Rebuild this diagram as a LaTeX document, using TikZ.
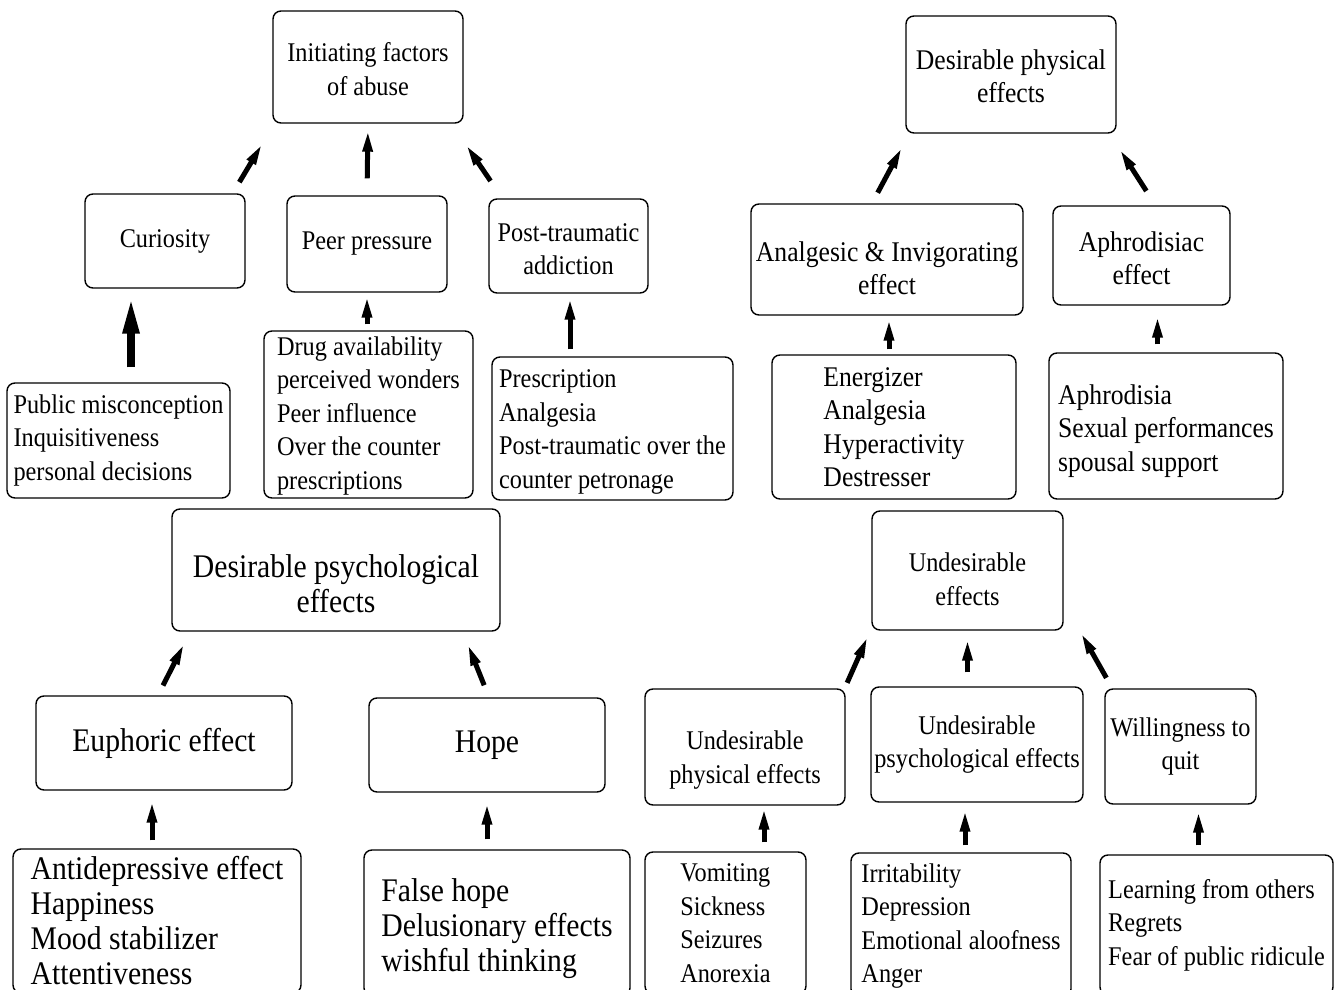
\documentclass[tikz,border=0pt]{standalone}
\usepackage{fontspec}
\setmainfont{Liberation Serif}[FakeStretch=0.9]
\usepackage{tikz}
\usetikzlibrary{arrows.meta}

% taller first line pushes the text of a box down
\newcommand{\pushdown}[1]{\rule{0pt}{#1}}

\tikzset{
    box/.style={draw, rounded corners=4pt, line width=0.7pt, inner sep=0pt, align=center,
        font=\fontsize{13.5}{16.75}\selectfont},
    listbox/.style={box, align=left},
    mid/.style={font=\fontsize{14.25}{16.75}\selectfont},
    big/.style={font=\fontsize{16.5}{17.5}\selectfont},
    arr/.style={-{Triangle[length=11pt,width=4.6pt]}, line width=2.5pt},
    bigarr/.style={-{Triangle[length=19pt,width=7.5pt]}, line width=4pt}
}

\begin{document}
\begin{tikzpicture}[x=0.5pt, y=-0.5pt]
                \useasboundingbox (0,0) rectangle (1335,990);
                \clip (0,0) rectangle (1335,990);

                % Nodes
                \node[box, minimum width=95pt, minimum height=56pt] (init) at (368,67) {\pushdown{11.8pt}Initiating factors\\of abuse};
                \node[box, minimum width=80pt, minimum height=47pt] (cur) at (165,241) {Curiosity};
                \node[box, minimum width=80pt, minimum height=48pt] (peer) at (367,244) {Peer pressure};
                \node[box, minimum width=79.5pt, minimum height=47pt] (post) at (568.5,246) {\pushdown{12.3pt}Post-traumatic\\addiction};
                \node[listbox, minimum width=111.5pt, minimum height=57.5pt] (pub) at (118.5,440.5) {Public misconception\\Inquisitiveness\\personal decisions};
                \node[listbox, minimum width=104.5pt, minimum height=83.5pt] (drug) at (368.5,414.5) {\pushdown{10.5pt}Drug availability\\perceived wonders\\Peer influence\\Over the counter\\prescriptions};
                \node[listbox, minimum width=120.5pt, minimum height=71.5pt] (presc) at (612.5,428.5) {\pushdown{12.3pt}Prescription\\Analgesia\\Post-traumatic over the\\counter petronage};

                \node[box, mid, minimum width=105pt, minimum height=58.5pt] (dphys) at (1011,74.5) {\pushdown{11.8pt}Desirable physical\\effects};
                \node[box, mid, minimum width=136pt, minimum height=55.5pt] (analg) at (887,259.5) {\pushdown{18.8pt}Analgesic \& Invigorating\\effect};
                \node[box, mid, minimum width=88.5pt, minimum height=49.5pt] (aphro) at (1141.5,255.5) {\pushdown{12.8pt}Aphrodisiac\\effect};
                \node[listbox, mid, minimum width=122pt, minimum height=72pt] (energ) at (894,427) {Energizer\\Analgesia\\Hyperactivity\\Destresser};
                \node[listbox, mid, minimum width=117pt, minimum height=73pt] (aphrod) at (1166,426) {\pushdown{14.8pt}Aphrodisia\\Sexual performances\\spousal support};

                \node[box, big, minimum width=164pt, minimum height=61pt] (dpsych) at (336,570) {\pushdown{25.3pt}Desirable psychological\\effects};
                \node[box, big, minimum width=128pt, minimum height=47pt] (euph) at (164,743) {Euphoric effect};
                \node[box, big, minimum width=118pt, minimum height=47pt] (hope) at (487,745) {Hope};
                \node[listbox, big, minimum width=144pt, minimum height=72pt] (antid) at (157,921) {Antidepressive effect\\Happiness\\Mood stabilizer\\Attentiveness};
                \node[listbox, big, minimum width=133pt, minimum height=73pt] (fhope) at (497,923) {\pushdown{17.3pt}False hope\\Delusionary effects\\wishful thinking};

                \node[box, minimum width=95.5pt, minimum height=59.5pt] (undes) at (967.5,570.5) {\pushdown{18.3pt}Undesirable\\effects};
                \node[box, minimum width=100pt, minimum height=58pt] (uphys) at (745,747) {\pushdown{22.3pt}Undesirable\\physical effects};
                \node[box, minimum width=106pt, minimum height=57.5pt] (upsych) at (977,744.5) {Undesirable\\psychological effects};
                \node[box, minimum width=75.5pt, minimum height=57.5pt] (quit) at (1180.5,746.5) {Willingness to\\quit};
                \node[listbox, minimum width=80.5pt, minimum height=71pt] (vomit) at (725.5,923) {Vomiting\\Sickness\\Seizures\\Anorexia};
                \node[listbox, minimum width=110pt, minimum height=72pt] (irrit) at (961,925) {\pushdown{10.5pt}Irritability\\Depression\\Emotional aloofness\\Anger};
                \node[listbox, minimum width=116.5pt, minimum height=70pt] (learn) at (1216.5,925) {Learning from others\\Regrets\\Fear of public ridicule};

                % Edges
                \draw[arr, shorten <=6.5pt, shorten >=11.5pt] ([xshift=-6.5pt]cur.north east)--([xshift=1pt]init.south west);
                \draw[arr, shorten <=8.5pt, shorten >=3pt] (peer.north)--(init.south);
                \draw[arr, shorten <=10.5pt, shorten >=12.5pt] ([xshift=7pt]post.north west)--([xshift=-6pt]init.south east);
                \draw[bigarr, shorten <=7.5pt, shorten >=3.5pt] ([xshift=-17pt]cur.south |- pub.north)--([xshift=-17pt]cur.south);
                \draw[arr, shorten <=3pt, shorten >=1.5pt] (peer.south |- drug.north)--(peer.south);
                \draw[arr, shorten <=3.5pt, shorten >=2pt] ([xshift=0.75pt]post.south |- presc.north)--([xshift=0.75pt]post.south);

                \draw[arr, shorten <=6pt, shorten >=7.5pt] ([xshift=-7.5pt]analg.north)--([xshift=2pt]dphys.south west);
                \draw[arr, shorten <=8.5pt, shorten >=9pt] ([xshift=7pt]aphro.north)--([xshift=-3.5pt]dphys.south east);
                \draw[arr, shorten <=2.5pt, shorten >=1.5pt] ([xshift=1pt]analg.south |- energ.north)--([xshift=1pt]analg.south);
                \draw[arr, shorten <=4pt, shorten >=5pt] ([xshift=8pt]aphro.south |- aphrod.north)--([xshift=8pt]aphro.south);

                \draw[arr, shorten <=5.5pt, shorten >=6.5pt] ([xshift=-3pt]euph.north)--([xshift=9.5pt]dpsych.south west);
                \draw[arr, shorten <=6.5pt, shorten >=6.5pt] ([xshift=1pt]hope.north)--([xshift=-19pt]dpsych.south east);
                \draw[arr, shorten <=4pt, shorten >=5pt] ([xshift=-6pt]euph.south |- antid.north)--([xshift=-6pt]euph.south);
                \draw[arr, shorten <=5pt, shorten >=5pt] (hope.south |- fhope.north)--(hope.south);

                \draw[arr, shorten <=3pt, shorten >=3pt] ([xshift=-0.5pt]uphys.north east)--([xshift=-0.5pt]undes.south west);
                \draw[arr, shorten <=7pt, shorten >=4pt] (undes.south |- upsych.north)--(undes.south);
                \draw[arr, shorten <=6pt, shorten >=1pt] ([xshift=4pt]quit.north west)--([xshift=8pt]undes.south east);
                \draw[arr, shorten <=4.5pt, shorten >=1pt] ([xshift=9.5pt]uphys.south |- vomit.north)--([xshift=9.5pt]uphys.south);
                \draw[arr, shorten <=3.5pt, shorten >=3.5pt] ([xshift=-6pt]upsych.south |- irrit.north)--([xshift=-6pt]upsych.south);
                \draw[arr, shorten <=4.5pt, shorten >=3pt] ([xshift=9pt]quit.south |- learn.north)--([xshift=9pt]quit.south);
            \end{tikzpicture}
\end{document}
